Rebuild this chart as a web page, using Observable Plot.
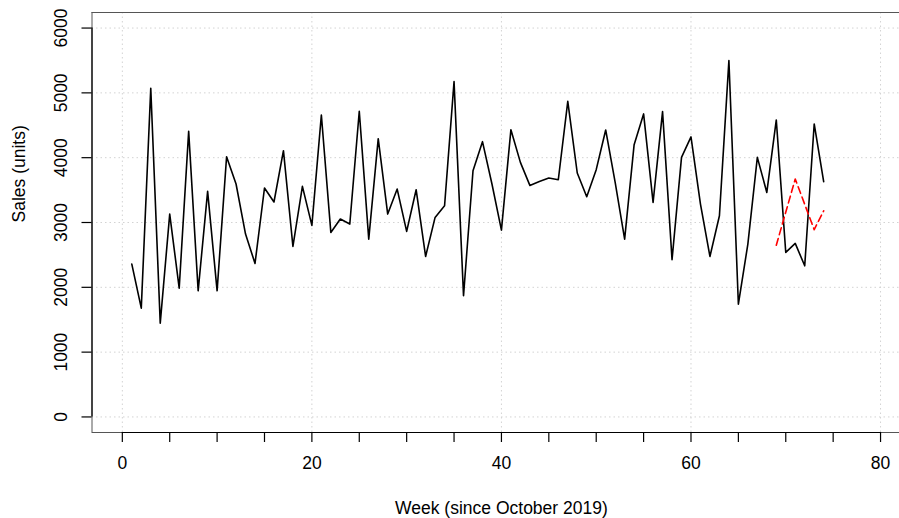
<!DOCTYPE html>
<html>
<head>
<meta charset="utf-8">
<script src="https://cdn.jsdelivr.net/npm/d3@7"></script>
<script src="https://cdn.jsdelivr.net/npm/@observablehq/plot@0.6"></script>
<style>
  html, body { margin: 0; padding: 0; background: #fff; overflow: hidden; }
  #chart { width: 899px; height: 518px; }
</style>
</head>
<body>
<div id="chart"></div>
<script>
// Weekly unit sales, week 1 onward (since October 2019)
const sales = [
  2358, 1679, 5070, 1447, 3130, 1988, 4406, 1946, 3480, 1946,
  4015, 3594, 2822, 2368, 3532, 3316, 4108, 2630, 3557, 2955,
  4659, 2847, 3053, 2976, 4716, 2744, 4293, 3130, 3516, 2862,
  3506, 2476, 3079, 3259, 5174, 1869, 3799, 4247, 3594, 2883,
  4432, 3928, 3572, 3634, 3686, 3660, 4870, 3764, 3398, 3815,
  4428, 3619, 2744, 4201, 4675, 3310, 4710, 2425, 4005, 4320,
  3285, 2476, 3104, 5498, 1740, 2667, 4005, 3464, 4582, 2538,
  2677, 2332, 4520, 3629
];

// Model fit over the last weeks (dashed red)
const fitWeeks = [69, 71, 73, 74];
const fitSales = [2650, 3670, 2890, 3180];

// Axis ticks
const xTicks = [0, 5, 10, 15, 20, 25, 30, 35, 40, 45, 50, 55, 60, 65, 70, 75, 80];
const xLabels = [0, 20, 40, 60, 80];
const yTicks = [0, 1000, 2000, 3000, 4000, 5000, 6000];

const observed = sales.map((v, i) => ({week: i + 1, sales: v}));
const fitted = fitWeeks.map((w, i) => ({week: w, sales: fitSales[i]}));

// Axis ranges padded 4% on each side, base-graphics style
const xMin = -3.2, yMin = -240, yMax = 6240;

const ink = "#000";
const fs = 17.5;
const grid = {stroke: "#d3d3d3", strokeDasharray: "1.5,3", strokeWidth: 1};

const chart = Plot.plot({
  width: 899,
  height: 518,
  marginTop: 12,
  marginBottom: 86,
  marginLeft: 91.5,
  marginRight: 0,
  style: {fontFamily: "'Liberation Sans', Arial, Helvetica, sans-serif", fontSize: fs + "px", background: "#fff", color: ink},
  x: {domain: [xMin, 82.0]},
  y: {domain: [yMin, yMax]},
  marks: [
    // dotted grid
    Plot.ruleY(yTicks, grid),
    Plot.ruleX(xLabels, grid),

    // plot box (left, top, bottom)
    Plot.ruleY([yMin, yMax], {stroke: "#555", strokeWidth: 1}),
    Plot.ruleX([xMin], {stroke: "#555", strokeWidth: 1}),

    // axis lines
    Plot.ruleY([yMin], {x1: 0, x2: 80, stroke: ink, strokeWidth: 1.2}),
    Plot.ruleX([xMin], {y1: 0, y2: 6000, stroke: ink, strokeWidth: 1.2}),

    // x ticks and labels
    Plot.axisX(xTicks, {tickSize: 10, tickFormat: () => "", stroke: ink, strokeWidth: 1.2, label: null}),
    Plot.axisX(xLabels, {tickSize: 10, tickPadding: 14, strokeOpacity: 0, label: null, fontSize: fs}),

    // y ticks and rotated labels
    Plot.axisY(yTicks, {tickSize: 10, tickFormat: () => "", stroke: ink, strokeWidth: 1.2, label: null}),
    Plot.text(yTicks, {x: xMin, y: d => d, text: d => String(d), rotate: -90, dx: -31, fill: ink, fontSize: fs}),

    // axis titles
    Plot.text(["Sales (units)"], {frameAnchor: "left", rotate: -90, dx: -73, fill: ink, fontSize: fs}),
    Plot.text(["Week (since October 2019)"], {x: 40, frameAnchor: "bottom", dy: 81, fill: ink, fontSize: fs}),

    // series
    Plot.line(observed, {x: "week", y: "sales", stroke: ink, strokeWidth: 1.6}),
    Plot.line(fitted, {x: "week", y: "sales", stroke: "red", strokeWidth: 1.6, strokeDasharray: "7,4"})
  ]
});

document.getElementById("chart").append(chart);
</script>
</body>
</html>
